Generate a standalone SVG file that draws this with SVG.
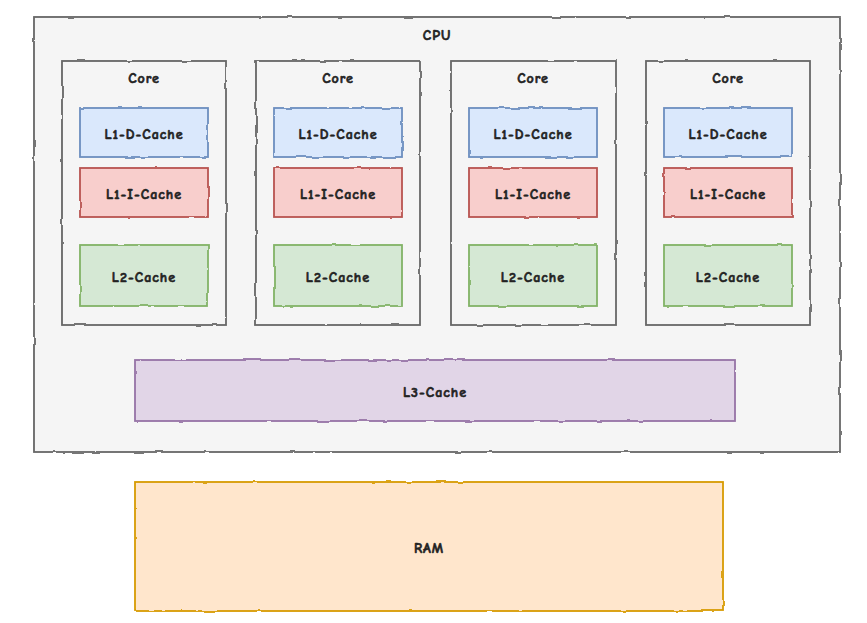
<svg xmlns="http://www.w3.org/2000/svg" width="867" height="623" viewBox="0 0 867 623">
<defs>
<filter id="rough" x="-5%" y="-5%" width="110%" height="110%">
<feTurbulence type="fractalNoise" baseFrequency="0.06" numOctaves="2" seed="3" result="n"/>
<feDisplacementMap in="SourceGraphic" in2="n" scale="2.5" xChannelSelector="R" yChannelSelector="G"/>
</filter>
</defs>
<style>
text{font-family:"Comic Sans MS","Comic Neue","Liberation Sans",sans-serif;font-weight:bold;font-size:14px;letter-spacing:1px;fill:#222;stroke:#222;stroke-width:0.6;text-anchor:middle;dominant-baseline:middle}
rect{stroke-width:1.8;filter:url(#rough)}
.gray{fill:#f5f5f5;stroke:#666}
.blue{fill:#dae8fc;stroke:#6c8ebf}
.red{fill:#f8cecc;stroke:#b85450}
.green{fill:#d5e8d4;stroke:#82b366}
.purple{fill:#e1d5e7;stroke:#9673a6}
.orange{fill:#ffe6cc;stroke:#d79b00}
</style>
<rect width="867" height="623" fill="#ffffff" style="filter:none;stroke:none"/>
<g id="cpu">
<rect class="gray" x="34" y="17" width="806" height="435"/>
<text x="437" y="37">CPU</text>
</g>
<g id="core1">
<rect class="gray" x="62" y="61" width="164" height="264"/>
<text x="144" y="80">Core</text>
</g>
<g id="core2">
<rect class="gray" x="256" y="61" width="164" height="264"/>
<text x="338" y="80">Core</text>
</g>
<g id="core3">
<rect class="gray" x="451" y="61" width="165" height="264"/>
<text x="533" y="80">Core</text>
</g>
<g id="core4">
<rect class="gray" x="646" y="61" width="164" height="264"/>
<text x="728" y="80">Core</text>
</g>
<g id="l1d1"><rect class="blue" x="80" y="108" width="128" height="49"/><text x="144" y="136">L1-D-Cache</text></g>
<g id="l1d2"><rect class="blue" x="274" y="108" width="128" height="49"/><text x="338" y="136">L1-D-Cache</text></g>
<g id="l1d3"><rect class="blue" x="469" y="108" width="128" height="49"/><text x="533" y="136">L1-D-Cache</text></g>
<g id="l1d4"><rect class="blue" x="664" y="108" width="128" height="49"/><text x="728" y="136">L1-D-Cache</text></g>
<g id="l1i1"><rect class="red" x="80" y="168" width="128" height="49"/><text x="144" y="196">L1-I-Cache</text></g>
<g id="l1i2"><rect class="red" x="274" y="168" width="128" height="49"/><text x="338" y="196">L1-I-Cache</text></g>
<g id="l1i3"><rect class="red" x="469" y="168" width="128" height="49"/><text x="533" y="196">L1-I-Cache</text></g>
<g id="l1i4"><rect class="red" x="664" y="168" width="128" height="49"/><text x="728" y="196">L1-I-Cache</text></g>
<g id="l2c1"><rect class="green" x="80" y="245" width="128" height="61"/><text x="144" y="279">L2-Cache</text></g>
<g id="l2c2"><rect class="green" x="274" y="245" width="128" height="61"/><text x="338" y="279">L2-Cache</text></g>
<g id="l2c3"><rect class="green" x="469" y="245" width="128" height="61"/><text x="533" y="279">L2-Cache</text></g>
<g id="l2c4"><rect class="green" x="664" y="245" width="128" height="61"/><text x="728" y="279">L2-Cache</text></g>
<g id="l3"><rect class="purple" x="135" y="360" width="600" height="61"/><text x="435" y="394">L3-Cache</text></g>
<g id="ram"><rect class="orange" x="135" y="482" width="588" height="129"/><text x="429" y="550">RAM</text></g>
<g id="connectors"/>
</svg>
